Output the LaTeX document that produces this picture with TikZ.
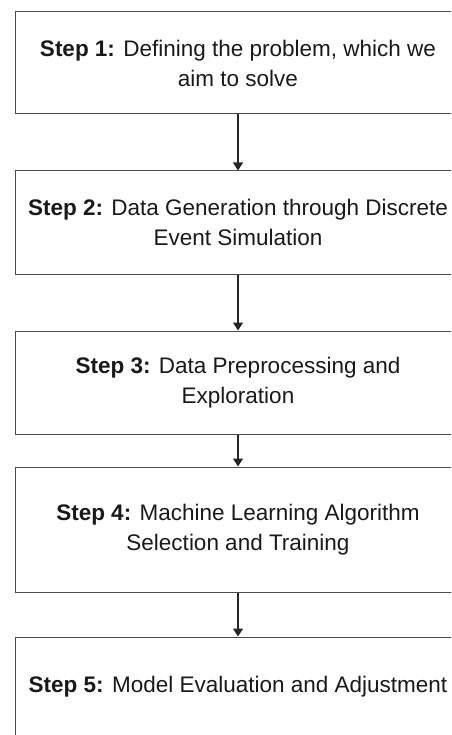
\documentclass[tikz,border=0pt]{standalone}
\usepackage{fontspec}
\setmainfont{Liberation Sans}
\usetikzlibrary{arrows.meta}
\begin{document}
\begin{tikzpicture}[x = 1pt, y = -1pt,
        stepbox/.style = {draw = black!70, line width = 1pt, rectangle, minimum width = 446pt,
            align = center, inner sep = 0pt, text = black!90,
            font = \fontsize{22.5}{30}\selectfont},
        flow/.style = {draw = black!85, line width = 1.1pt, -{Triangle[width = 10pt, length = 8pt]}}]
    \useasboundingbox (0, 0) rectangle (451, 735);
    \clip (0, 0) rectangle (451, 735);
    \node[stepbox, minimum height = 102pt] (s1) at (238, 63)
        {\textbf{Step 1:} Defining the problem, which we\\aim to solve};
    \node[stepbox, minimum height = 103pt] (s2) at (238, 222.5)
        {\textbf{Step 2:} Data Generation through Discrete\\Event Simulation};
    \node[stepbox, minimum height = 103pt] (s3) at (238, 382.5)
        {\textbf{Step 3:} Data Preprocessing and\\Exploration};
    \node[stepbox, minimum height = 125pt] (s4) at (238, 529.5)
        {\textbf{Step 4:} Machine Learning Algorithm\\Selection and Training};
    \node[stepbox, minimum height = 100pt] (s5) at (238, 687)
        {\textbf{Step 5:} Model Evaluation and Adjustment};
    \draw[flow] (s1) -- (s2);
    \draw[flow] (s2) -- (s3);
    \draw[flow] (s3) -- (s4);
    \draw[flow] (s4) -- (s5);
\end{tikzpicture}
\end{document}
